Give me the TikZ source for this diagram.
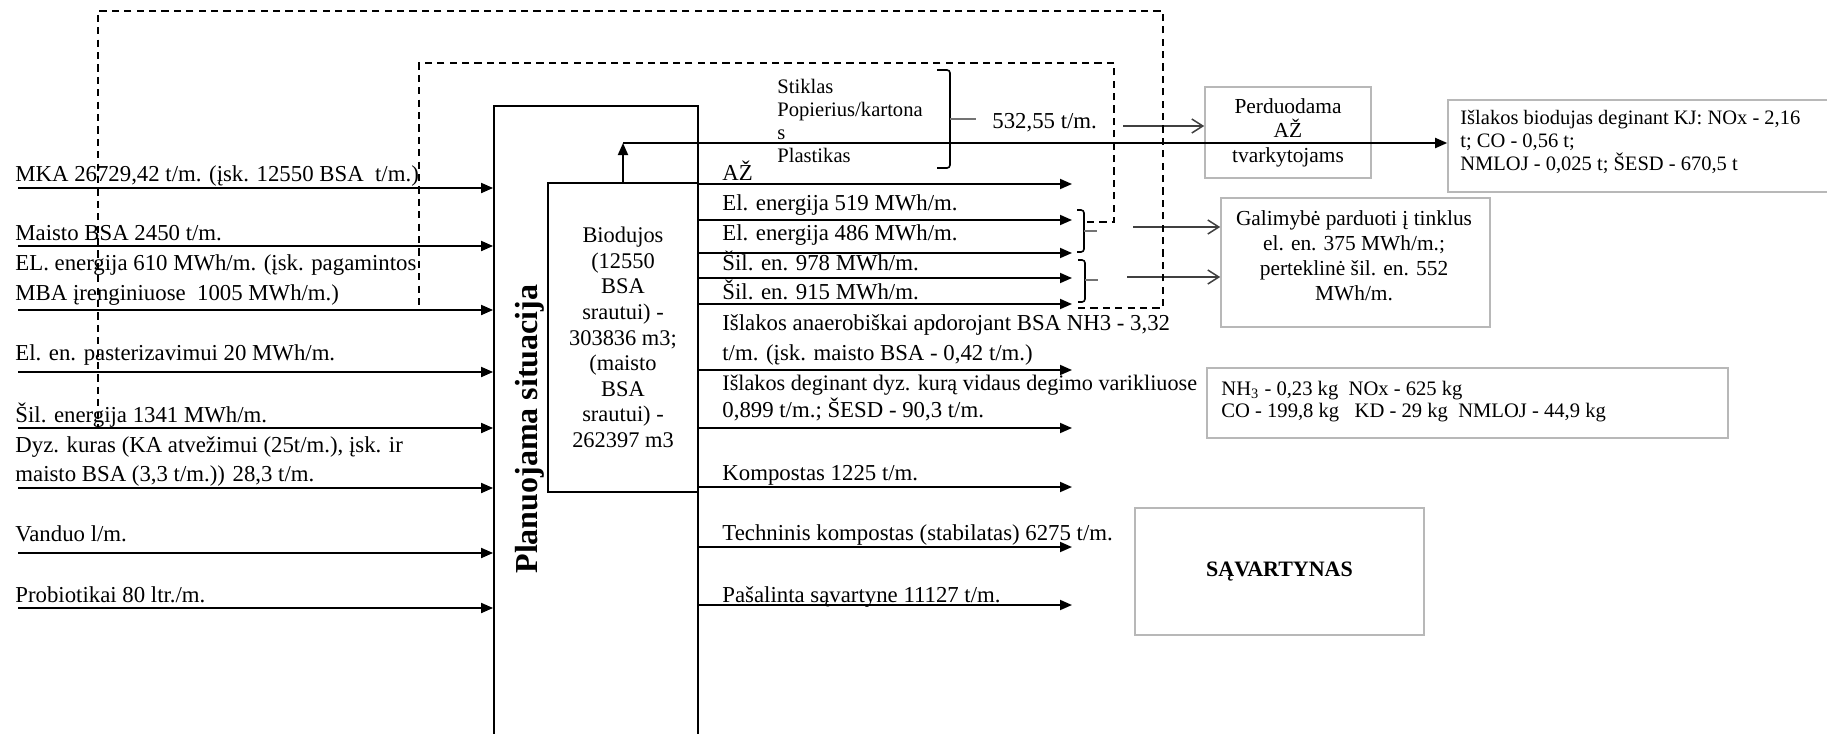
\documentclass[tikz,border=0pt]{standalone}
\usepackage{fontspec}
\setmainfont{Liberation Serif}
\usetikzlibrary{arrows.meta}
\begin{document}
\begin{tikzpicture}[x=0.5pt,y=-0.5pt,
  flow/.style={line width=0.9pt,-{Triangle[length=6pt,width=5pt]}},
  barb/.style={line width=0.75pt,draw=black!75,-{Straight Barb[length=5.5pt,width=7pt]}},
  fb/.style={line width=0.7pt,dash pattern=on 3.6pt off 2.6pt},
  brk/.style={line width=0.8pt,rounded corners=1.5pt},
  tick/.style={line width=0.8pt,draw=black!55},
  lbl/.style={anchor=base west,inner sep=0pt,font=\fontsize{11.4}{15}\selectfont},
  procbox/.style={draw,rectangle,line width=0.9pt,inner sep=0pt},
  graybox/.style={draw=black!28,rectangle,line width=0.8pt,inner sep=0pt},
]
\useasboundingbox (0,0) rectangle (1827,734);

% main process block and biogas block
\node[procbox,minimum width=102pt,minimum height=332pt] (plan) at (596,438) {};
\node[procbox,minimum width=75pt,minimum height=154.5pt,align=center,
      font=\fontsize{11.2}{12.8}\selectfont] (bio) at (623,337.5)
  {Biodujos\\(12550\\BSA\\srautui) -\\303836 m3;\\(maisto\\BSA\\srautui) -\\262397 m3};
\node[rotate=90,inner sep=0pt,font=\bfseries\fontsize{16}{19}\selectfont] (title) at (530,429) {Planuojama situacija};

% inputs
\node[lbl] (tMKA) at (15,181) {MKA 26729,42 t/m. (įsk. 12550 BSA\ \ t/m.)};
\node[lbl] (tMaisto) at (15,240) {Maisto BSA 2450 t/m.};
\node[lbl] (tEL1) at (15,270) {EL. energija 610 MWh/m. (įsk. pagamintos};
\node[lbl] (tEL2) at (15,300) {MBA įrenginiuose\ \ 1005 MWh/m.)};
\node[lbl] (tPast) at (15,360) {El. en. pasterizavimui 20 MWh/m.};
\node[lbl] (tSil) at (15,422) {Šil. energija 1341 MWh/m.};
\node[lbl] (tDyz1) at (15,452) {Dyz. kuras (KA atvežimui (25t/m.), įsk. ir};
\node[lbl] (tDyz2) at (15,481) {maisto BSA (3,3 t/m.)) 28,3 t/m.};
\node[lbl] (tVand) at (15,541) {Vanduo l/m.};
\node[lbl] (tProb) at (15,602) {Probiotikai 80 ltr./m.};

\coordinate (inMKA) at (18,188);
\coordinate (inMaisto) at (18,246);
\coordinate (inEL) at (18,310);
\coordinate (inPast) at (18,372);
\coordinate (inSil) at (18,428);
\coordinate (inDyz) at (18,488);
\coordinate (inVand) at (18,553);
\coordinate (inProb) at (18,608);
\foreach \c in {inMKA,inMaisto,inEL,inPast,inSil,inDyz,inVand,inProb}
  \draw[flow] (\c) -- (\c -| plan.west);

% outputs
\node[lbl] (oAZ) at (722,180) {AŽ};
\node[lbl] (oEl1) at (722,210) {El. energija 519 MWh/m.};
\node[lbl] (oEl2) at (722,240) {El. energija 486 MWh/m.};
\node[lbl] (oSil1) at (722,270) {Šil. en. 978 MWh/m.};
\node[lbl] (oSil2) at (722,299) {Šil. en. 915 MWh/m.};
\node[lbl] (oNH1) at (722,330) {Išlakos anaerobiškai apdorojant BSA NH3 - 3,32};
\node[lbl] (oNH2) at (722,360) {t/m. (įsk. maisto BSA - 0,42 t/m.)};
\node[lbl,font=\fontsize{11.1}{15}\selectfont] (oDeg1) at (722,390) {Išlakos deginant dyz. kurą vidaus degimo varikliuose};
\node[lbl] (oDeg2) at (722,417) {0,899 t/m.; ŠESD - 90,3 t/m.};
\node[lbl] (oKomp) at (722,480) {Kompostas 1225 t/m.};
\node[lbl] (oTech) at (722,540) {Techninis kompostas (stabilatas) 6275 t/m.};
\node[lbl] (oSav) at (722,602) {Pašalinta sąvartyne 11127 t/m.};

\coordinate (outAZ) at (1072,184);
\coordinate (outEl1) at (1072,220);
\coordinate (outEl2) at (1072,253);
\coordinate (outSil1) at (1072,278);
\coordinate (outSil2) at (1072,304);
\coordinate (outNH) at (1072,370);
\coordinate (outDeg) at (1072,428);
\coordinate (outKomp) at (1072,487);
\coordinate (outTech) at (1072,547);
\coordinate (outSav) at (1072,605);
\foreach \c in {outAZ,outEl1,outEl2,outSil1,outSil2,outNH,outDeg,outKomp,outTech,outSav}
  \draw[flow] (\c -| plan.east) -- (\c);

% recyclables (multi-line nodes sit on the baseline of their last line)
\node[anchor=base west,inner sep=0pt,align=left,font=\fontsize{10.3}{11.5}\selectfont] (glass) at (777,162)
  {Stiklas\\Popierius/kartona\\s\\Plastikas};
\draw[brk] (937,70) -- (950,70) -- (950,168) -- (937,168);
\draw[tick] (950,119) -- (976,119);
\node[lbl] (glassQty) at (992,128) {532,55 t/m.};

% receiving boxes
\node[graybox,minimum width=83pt,minimum height=45.5pt,align=center,
      font=\fontsize{10.7}{12.25}\selectfont] (perd) at (1288,132.5) {Perduodama\\AŽ\\tvarkytojams};
\node[graybox,minimum width=193.5pt,minimum height=46pt] (isl) at (1641.5,146) {};
\node[anchor=base west,inner sep=0pt,align=left,font=\fontsize{10.25}{11.5}\selectfont] (islTxt) at (1460,170)
  {Išlakos biodujas deginant KJ: NOx - 2,16\\t; CO - 0,56 t;\\NMLOJ - 0,025 t; ŠESD - 670,5 t};
\node[graybox,minimum width=134.5pt,minimum height=64.5pt] (gal) at (1355.5,262.5) {};
\node[inner sep=0pt,align=center,font=\fontsize{10.7}{12.5}\selectfont] (galTxt) at (1354,255.5)
  {Galimybė parduoti į tinklus\\el. en. 375 MWh/m.;\\perteklinė šil. en. 552\\MWh/m.};
\node[graybox,minimum width=260.5pt,minimum height=35pt] (nhx) at (1467.5,403) {};
\node[anchor=base west,inner sep=0pt,align=left,font=\fontsize{10.3}{11}\selectfont] (nhxTxt) at (1221,417)
  {NH\textsubscript{3} - 0,23 kg\ \ NOx - 625 kg\\CO - 199,8 kg\ \ \ KD - 29 kg\ \ NMLOJ - 44,9 kg};
\node[graybox,minimum width=144.5pt,minimum height=63.5pt,font=\bfseries\fontsize{11}{13}\selectfont] (sav) at (1279.5,571.5) {SĄVARTYNAS};

% transfers to receivers
\coordinate (fromGlass) at (1123,126);
\draw[barb] (fromGlass) -- (fromGlass -| perd.west);
\coordinate (fromEl) at (1133,227);
\draw[barb] (fromEl) -- (fromEl -| gal.west);
\coordinate (fromSil) at (1127,277);
\draw[barb] (fromSil) -- (fromSil -| gal.west);

% biogas combustion emissions
\coordinate (bend) at (623,143);
\draw[flow] (bio.north) -- (bend);
\draw[flow] (bend) -- (bend -| isl.west);

% brackets grouping electricity and heat
\draw[brk] (1077,210) -- (1084,210) -- (1084,252) -- (1077,252);
\draw[tick] (1084,231) -- (1097,231);
\draw[brk] (1078,260) -- (1085,260) -- (1085,302) -- (1078,302);
\draw[tick] (1085,280) -- (1098,280);

% internal reuse loops
\coordinate (elBr) at (1087,222);
\coordinate (elBack) at (419,310);
\draw[fb] (elBr) -| (1114,63) -| (elBack);
\coordinate (heatBr) at (1078,308);
\coordinate (heatBack) at (98,428);
\draw[fb] (heatBr) -| (1163,11) -| (heatBack);
\end{tikzpicture}
\end{document}
